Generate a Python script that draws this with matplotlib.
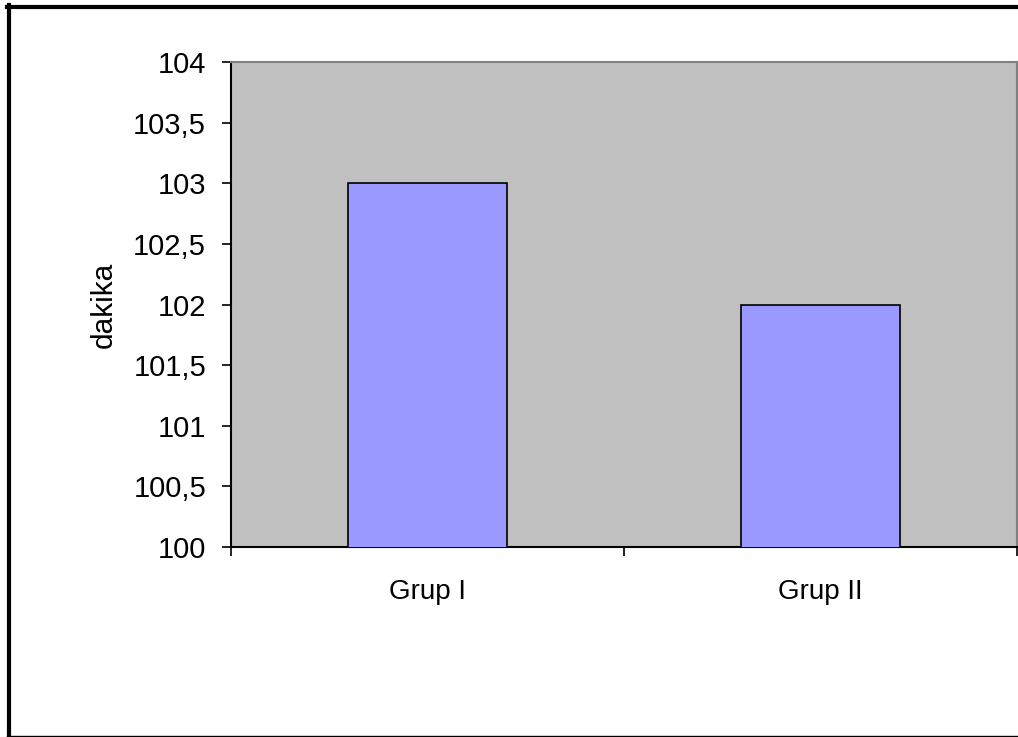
import matplotlib
matplotlib.use("Agg")
import matplotlib.pyplot as plt
from matplotlib.lines import Line2D
from matplotlib.ticker import FuncFormatter

categories = ["Grup I", "Grup II"]
values = [103.0, 102.0]
y_label = "dakika"

plt.rcParams["font.family"] = ["Liberation Sans", "DejaVu Sans"]

W, H = 1018, 737
fig = plt.figure(figsize=(W / 100, H / 100), dpi=100)

# plot area in pixels: left 231, right 1017, top 62, bottom 547
left, right, top, bottom = 231, 1017, 62, 547
ax = fig.add_axes([left / W, 1 - bottom / H, (right - left) / W, (bottom - top) / H])
ax.set_facecolor("#C0C0C0")

x = range(len(categories))
ax.bar(x, values, width=0.405, bottom=0, color="#9999FF", edgecolor="black", linewidth=1.2, zorder=3)
ax.set_xlim(-0.5, len(categories) - 0.5)
ax.set_ylim(100, 104)
ax.set_yticks([100 + 0.5 * i for i in range(9)])
ax.yaxis.set_major_formatter(FuncFormatter(lambda v, p: ("%g" % v).replace(".", ",")))

# category boundaries as x ticks, labels centred via minor ticks
ax.set_xticks([-0.5, 0.5, 1.5])
ax.set_xticklabels([])
ax.set_xticks(list(x), minor=True)
ax.set_xticklabels(categories, minor=True)
ax.tick_params(axis="x", which="minor", length=0, pad=23, labelsize=20)
ax.tick_params(axis="x", which="major", direction="out", length=6.5, width=1.2, color="black")
ax.tick_params(axis="y", direction="out", length=6.5, width=1.2, labelsize=21, pad=11.5)

for s in ["left", "bottom"]:
    ax.spines[s].set_color("black")
    ax.spines[s].set_linewidth(1.5)
for s in ["top", "right"]:
    ax.spines[s].set_color("#808080")
    ax.spines[s].set_linewidth(1.5)

ax.set_ylabel(y_label, fontsize=21.5, labelpad=11)

# figure border (cropped: thick left/top, thin bottom)
fig.add_artist(Line2D([9 / W, 9 / W], [0, 1 - 5 / H], color="black", linewidth=3, transform=fig.transFigure))
fig.add_artist(Line2D([7 / W, 1], [1 - 7 / H, 1 - 7 / H], color="black", linewidth=3, transform=fig.transFigure))
fig.add_artist(Line2D([7 / W, 1], [0.6 / H, 0.6 / H], color="black", linewidth=1, transform=fig.transFigure))

fig.savefig("out.png", dpi=100)
